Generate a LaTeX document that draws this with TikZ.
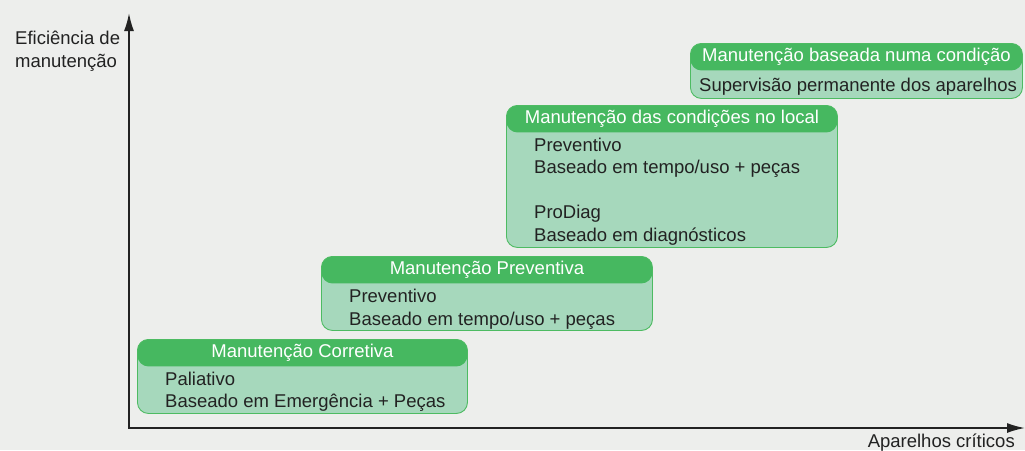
\documentclass[tikz,border=0pt]{standalone}
\usepackage{fontspec}
\setmainfont{Liberation Sans}
\usetikzlibrary{calc,arrows.meta}
\definecolor{pagebg}{HTML}{EDEEEC}
\definecolor{stagegreen}{HTML}{46B860}
\definecolor{stagebody}{HTML}{A6D8BC}
\definecolor{stageline}{HTML}{4DBB62}
\definecolor{inkdark}{HTML}{222222}
\newcommand{\stagefont}{\fontsize{18.5}{22.6}\selectfont}

\begin{document}
\begin{tikzpicture}[x=1pt, y=-1pt,
    stagebox/.style={draw=stageline, line width=0.9pt, rounded corners=11pt, fill=stagebody,
                     anchor=north west, inner sep=0pt,
                     path picture={\fill[stagegreen] (path picture bounding box.north west)
                       rectangle ([yshift=-27pt]path picture bounding box.north east);}},
    stagetitle/.style={font=\stagefont, text=white, inner sep=0pt},
    stagetext/.style={font=\stagefont, text=inkdark, align=left, anchor=north west, inner sep=0pt},
    axis/.style={-{Latex[length=18pt, width=10pt]}, draw=inkdark, line width=1.7pt},
    axislabel/.style={font=\stagefont, text=inkdark, align=left, inner sep=0pt}
  ]
    % page and background (pixel grid 1025 x 450)
    \fill[pagebg] (0,0) rectangle (1025,450);
    \useasboundingbox (0,0) rectangle (1025,450);

    % axes
    \coordinate (origin) at (129,428);
    \coordinate (ytip)   at (129,13);
    \coordinate (xtip)   at (1025,428);
    \draw[axis] (origin) -- (ytip);
    \draw[axis] ([xshift=-0.85pt]origin) -- (xtip);

    \node[axislabel, anchor=north west] (ylabel) at (15,31) {Eficiência de\\manutenção};
    \node[axislabel, anchor=base east]  (xlabel) at (1015,447.5) {Aparelhos críticos};

    % stages (boxes at pixel positions of the reference)
    \node[stagebox, minimum width=330pt, minimum height=74pt]  (corr)  at (137,339) {};
    \node[stagebox, minimum width=331pt, minimum height=74pt]  (prev)  at (321,256) {};
    \node[stagebox, minimum width=331pt, minimum height=142pt] (local) at (506,105) {};
    \node[stagebox, minimum width=332pt, minimum height=55pt]  (cond)  at (690,43)  {};

    \node[stagetitle] at ([yshift=-13.5pt]corr.north)  {Manutenção Corretiva};
    \node[stagetitle] at ([yshift=-13.5pt]prev.north)  {Manutenção Preventiva};
    \node[stagetitle] at ([yshift=-13.5pt]local.north) {Manutenção das condições no local};
    \node[stagetitle] at ([yshift=-13.5pt]cond.north)  {Manutenção baseada numa condição};

    \node[stagetext] at ([xshift=28pt, yshift=-32.5pt]corr.north west)
      {Paliativo\\Baseado em Emergência + Peças};
    \node[stagetext] at ([xshift=28pt, yshift=-33pt]prev.north west)
      {Preventivo\\Baseado em tempo/uso + peças};
    \node[stagetext] at ([xshift=28pt, yshift=-32.5pt]local.north west)
      {Preventivo\\Baseado em tempo/uso + peças\\[22.6pt]ProDiag\\Baseado em diagnósticos};
    \node[stagetext] at ([xshift=9pt, yshift=-34.5pt]cond.north west)
      {Supervisão permanente dos aparelhos};
  \end{tikzpicture}
\end{document}
